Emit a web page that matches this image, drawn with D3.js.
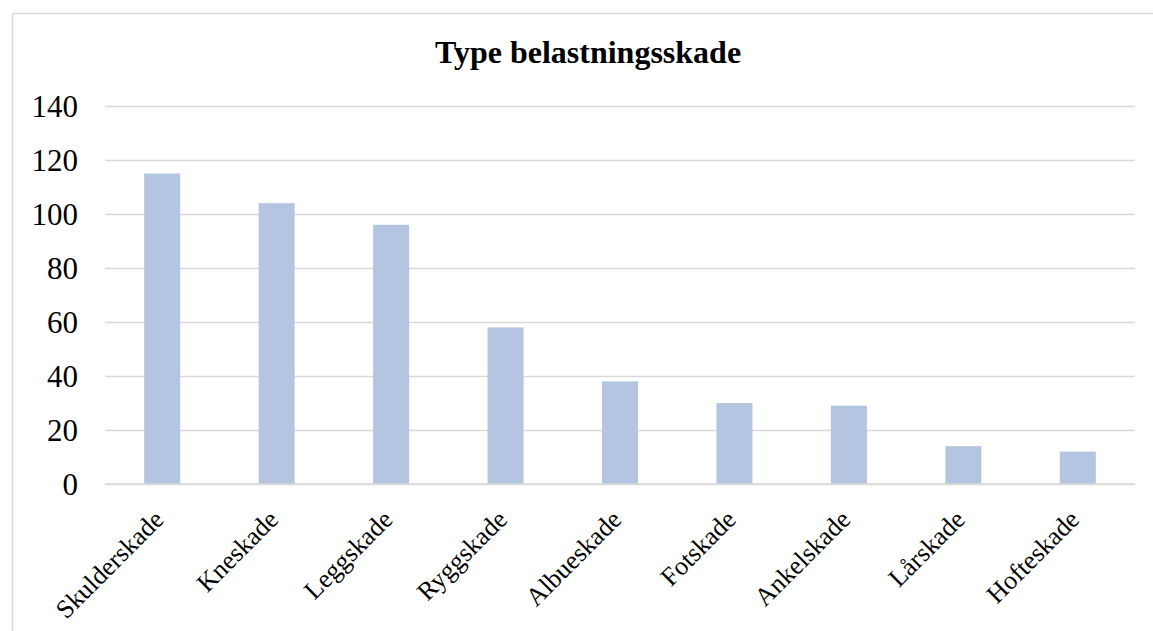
<!DOCTYPE html>
<html>
<head>
<meta charset="utf-8">
<script src="https://cdn.jsdelivr.net/npm/d3@7"></script>
<style>
  html, body { margin: 0; padding: 0; background: #fff; }
  svg text { font-family: "Liberation Serif", "Times New Roman", serif; fill: #000; }
</style>
</head>
<body>
<svg id="chart" width="1153" height="631"></svg>
<script>
// Injury counts by type of overuse injury
const categories = ["Skulderskade", "Kneskade", "Leggskade", "Ryggskade", "Albueskade",
                    "Fotskade", "Ankelskade", "Lårskade", "Hofteskade"];
const values = [115, 104, 96, 58, 38, 30, 29, 14, 12];
const yTicks = [0, 20, 40, 60, 80, 100, 120, 140];
const title = "Type belastningsskade";

const svg = d3.select("#chart");
const W = 1153, H = 631;
const plot = { left: 105, right: 1135, top: 106, bottom: 484 };

// chart frame
svg.append("rect")
  .attr("x", 12.5).attr("y", 13.5)
  .attr("width", W + 10).attr("height", H + 10)
  .attr("fill", "#fff")
  .attr("stroke", "#d9d9d9").attr("stroke-width", 1.5);

svg.append("text")
  .attr("x", 588).attr("y", 63)
  .attr("text-anchor", "middle")
  .attr("font-size", 32).attr("font-weight", "bold")
  .text(title);

const x = d3.scaleBand()
  .domain(categories)
  .range([plot.left, plot.right])
  .paddingInner(0.685).paddingOuter(0.3425);

const y = d3.scaleLinear()
  .domain([0, 140])
  .range([plot.bottom, plot.top]);

// horizontal gridlines
const yAxis = d3.axisLeft(y)
  .tickValues(yTicks)
  .tickSize(-(plot.right - plot.left))
  .tickPadding(27)
  .tickFormat(d3.format("d"));

const gy = svg.append("g")
  .attr("transform", `translate(${plot.left},0)`)
  .call(yAxis);
gy.select(".domain").remove();
gy.selectAll(".tick line").attr("stroke", "#d9d9d9").attr("stroke-width", 1.5);
gy.selectAll(".tick text")
  .attr("font-size", 31)
  .attr("font-family", "Liberation Serif, Times New Roman, serif")
  .attr("fill", "#000")
  .attr("dy", "0.34em");

// bars
svg.append("g").selectAll("rect")
  .data(categories)
  .join("rect")
  .attr("x", d => x(d))
  .attr("width", x.bandwidth())
  .attr("y", (d, i) => y(values[i]))
  .attr("height", (d, i) => y(0) - y(values[i]))
  .attr("fill", "#b4c5e1");

// baseline
svg.append("line")
  .attr("x1", plot.left).attr("x2", plot.right)
  .attr("y1", y(0)).attr("y2", y(0))
  .attr("stroke", "#d9d9d9").attr("stroke-width", 1.5);

// rotated category labels
svg.append("g").selectAll("text")
  .data(categories)
  .join("text")
  .attr("text-anchor", "end")
  .attr("font-size", 26)
  .attr("transform", d => `translate(${x(d) + x.bandwidth() / 2 + 3},${plot.bottom + 37}) rotate(-45)`)
  .text(d => d);
</script>
</body>
</html>
